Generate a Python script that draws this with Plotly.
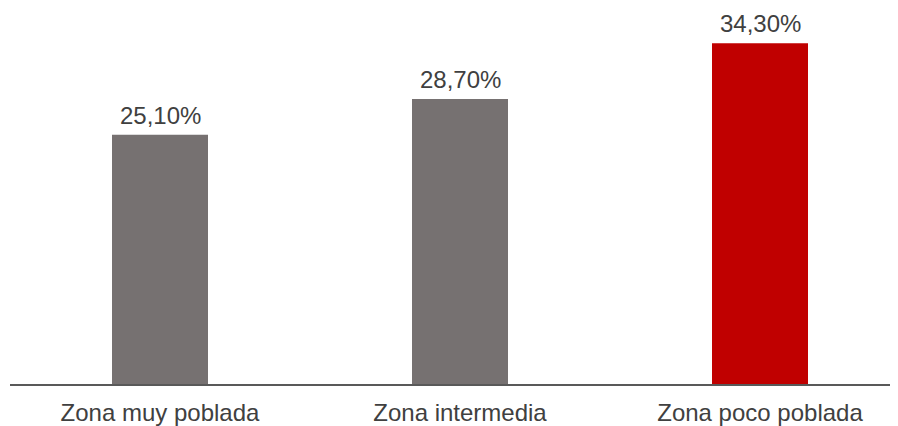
import plotly.graph_objects as go

categories = ["Zona muy poblada", "Zona intermedia", "Zona poco poblada"]
values = [25.1, 28.7, 34.3]
colors = ["#767171", "#767171", "#C00000"]

labels = [f"{v:.2f}%".replace(".", ",") for v in values]

FONT = "Liberation Sans, Arial"

fig = go.Figure(
    go.Bar(
        x=categories,
        y=values,
        marker=dict(color=colors, line=dict(width=0)),
        width=0.32,
        hoverinfo="skip",
    )
)

# value labels above each bar
for cat, val, lab in zip(categories, values, labels):
    fig.add_annotation(
        x=cat,
        y=val,
        text=lab,
        showarrow=False,
        yanchor="bottom",
        yshift=4,
        font=dict(family=FONT, size=24, color="#404040"),
    )

# page body has an 8px margin, so the figure is offset by that much
fig.update_layout(
    width=898,
    height=418,
    margin=dict(l=2, r=8, t=0, b=42),
    plot_bgcolor="white",
    paper_bgcolor="white",
    showlegend=False,
    font=dict(family=FONT, size=24, color="#404040"),
)
fig.update_xaxes(
    range=[-0.5, 2.46],
    showline=True,
    linecolor="#595959",
    linewidth=2,
    ticks="",
    tickfont=dict(family=FONT, size=24, color="#404040"),
    ticklabelstandoff=6,
)
fig.update_yaxes(range=[0, 37.86], visible=False)

fig.write_html("out.html")
